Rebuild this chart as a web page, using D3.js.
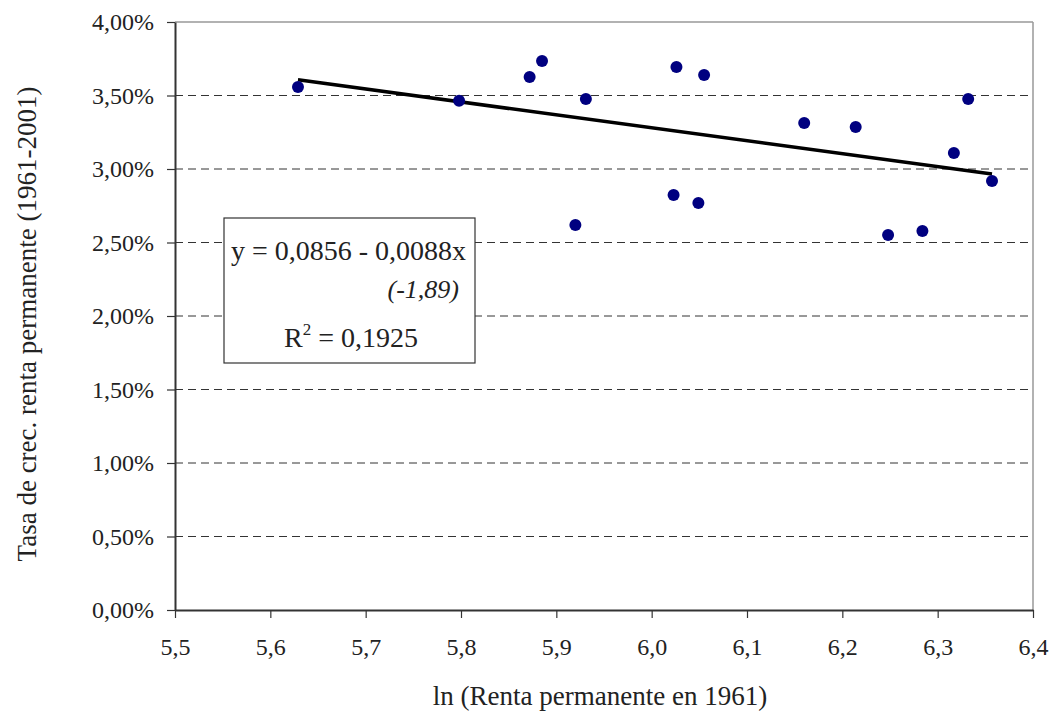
<!DOCTYPE html>
<html>
<head>
<meta charset="utf-8">
<script src="https://cdn.jsdelivr.net/npm/d3@7"></script>
<style>
  body { margin: 0; background: #fff; }
  svg text { font-family: "Liberation Serif", "DejaVu Serif", serif; fill: #222; }
</style>
</head>
<body>
<div id="chart"></div>
<script>
// ln(renta permanente 1961) and growth rate 1961-2001
const lnRenta = [5.629, 5.798, 5.872, 5.885, 5.931, 5.920, 6.026, 6.055, 6.023, 6.049,
                 6.160, 6.214, 6.248, 6.284, 6.317, 6.332, 6.357];
const tasa = [0.03558, 0.03465, 0.03626, 0.03735, 0.03476, 0.02619, 0.03694, 0.03639, 0.02823, 0.02769,
              0.03313, 0.03286, 0.02551, 0.02578, 0.03109, 0.03476, 0.02918];
const xTicks = [5.5, 5.6, 5.7, 5.8, 5.9, 6.0, 6.1, 6.2, 6.3, 6.4];
const yTicks = [0, 0.005, 0.01, 0.015, 0.02, 0.025, 0.03, 0.035, 0.04];
// fitted trend reported in the chart
const trendA = 0.0856, trendB = -0.0088;
const eqLines = ["y = 0,0856 - 0,0088x", "(-1,89)", "0,1925"];

const margin = { top: 22, right: 20, bottom: 103, left: 175 },
      width = 1053 - margin.left - margin.right,
      height = 713 - margin.top - margin.bottom;

const svg = d3.select("#chart")
    .append("svg")
    .attr("width", 1053)
    .attr("height", 713)
    .append("g")
    .attr("transform", `translate(${margin.left},${margin.top})`);

const x = d3.scaleLinear().domain([5.5, 6.4]).range([0, width]);
const y = d3.scaleLinear().domain([0, 0.04]).range([height, 0]);

const fmtY = d => (d * 100).toFixed(2).replace(".", ",") + "%";
const fmtX = d => d.toFixed(1).replace(".", ",");

// dashed gridlines
svg.selectAll(".grid")
    .data(yTicks.filter(d => d > 0 && d < 0.04))
    .enter().append("line")
    .attr("x1", 0).attr("x2", width)
    .attr("y1", d => y(d)).attr("y2", d => y(d))
    .attr("stroke", "#333")
    .attr("stroke-width", 1)
    .attr("stroke-dasharray", "8,5");

// frame top/right (grey)
svg.append("line").attr("x1", 0).attr("x2", width).attr("y1", 0).attr("y2", 0)
    .attr("stroke", "#999").attr("stroke-width", 1.5);
svg.append("line").attr("x1", width).attr("x2", width).attr("y1", 0).attr("y2", height)
    .attr("stroke", "#999").attr("stroke-width", 1.5);

// axes
const yAxis = svg.append("g")
    .call(d3.axisLeft(y).tickValues(yTicks).tickFormat(fmtY).tickSize(8).tickSizeOuter(0));
const xAxis = svg.append("g")
    .attr("transform", `translate(0,${height})`)
    .call(d3.axisBottom(x).tickValues(xTicks).tickFormat(fmtX).tickSize(8).tickSizeOuter(0));

[yAxis, xAxis].forEach(a => {
    a.attr("font-family", "Liberation Serif").attr("font-size", "24px");
    a.select(".domain").attr("stroke", "#333").attr("stroke-width", 2);
    a.selectAll(".tick line").attr("stroke", "#333").attr("stroke-width", 1.2);
    a.selectAll(".tick text")
        .attr("fill", "#222")
        .style("font-family", "Liberation Serif")
        .style("font-size", "24px");
});
yAxis.selectAll(".tick text").attr("x", -21);
xAxis.selectAll(".tick text").attr("y", 28);

// trend line
const xr = d3.extent(lnRenta);
svg.append("line")
    .attr("x1", x(xr[0])).attr("y1", y(trendA + trendB * xr[0]))
    .attr("x2", x(xr[1])).attr("y2", y(trendA + trendB * xr[1]))
    .attr("stroke", "#000")
    .attr("stroke-width", 3.5);

// points
svg.selectAll(".pt")
    .data(lnRenta.map((v, i) => ({ x: v, y: tasa[i] })))
    .enter().append("circle")
    .attr("cx", d => x(d.x))
    .attr("cy", d => y(d.y))
    .attr("r", 6)
    .attr("fill", "#000080");

// equation box
const box = svg.append("g").attr("transform", `translate(${224 - margin.left},${218 - margin.top})`);
box.append("rect")
    .attr("width", 251).attr("height", 145)
    .attr("fill", "#fff").attr("stroke", "#333").attr("stroke-width", 1.2);
box.append("text")
    .attr("x", 7).attr("y", 42)
    .style("font-size", "28px")
    .text(eqLines[0]);
box.append("text")
    .attr("x", 235).attr("y", 80)
    .attr("text-anchor", "end")
    .style("font-size", "26px")
    .style("font-style", "italic")
    .text(eqLines[1]);
const r2 = box.append("text")
    .attr("x", 127).attr("y", 129)
    .attr("text-anchor", "middle")
    .style("font-size", "28px");
r2.append("tspan").text("R");
r2.append("tspan").attr("dy", -12).style("font-size", "17px").text("2");
r2.append("tspan").attr("dy", 12).text(" = " + eqLines[2]);

// axis titles
svg.append("text")
    .attr("x", width / 2 - 4)
    .attr("y", height + 95)
    .attr("text-anchor", "middle")
    .style("font-size", "27px")
    .text("ln (Renta permanente en 1961)");

svg.append("text")
    .attr("transform", `translate(${36 - margin.left},${324 - margin.top}) rotate(-90)`)
    .attr("text-anchor", "middle")
    .style("font-size", "27px")
    .text("Tasa de crec. renta permanente (1961-2001)");
</script>
</body>
</html>
